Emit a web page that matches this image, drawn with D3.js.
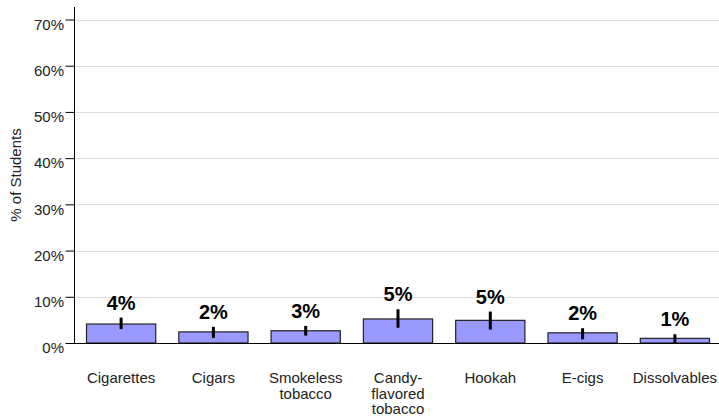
<!DOCTYPE html>
<html><head><meta charset="utf-8">
<script src="https://cdn.jsdelivr.net/npm/d3@7"></script>
<style>body{margin:0;background:#fff}svg{display:block;font-family:"Liberation Sans",Arial,sans-serif}</style>
</head><body><svg id="c" width="719" height="419"></svg>
<script>
const categories = [["Cigarettes"],["Cigars"],["Smokeless","tobacco"],["Candy-","flavored","tobacco"],["Hookah"],["E-cigs"],["Dissolvables"]];
const values = [4.1, 2.4, 2.65, 5.2, 4.9, 2.2, 1.0];
const errLow = [3.0, 1.1, 1.6, 3.3, 2.9, 0.8, 0.0];
const errHigh = [5.5, 3.5, 3.7, 7.3, 6.8, 3.2, 1.9];
const labels = ["4%","2%","3%","5%","5%","2%","1%"];
const yTicks = [0,10,20,30,40,50,60,70];

const svg = d3.select("#c");
const x0 = 74, xr = 721, yb = 343;
const y = d3.scaleLinear().domain([0,70]).range([yb,19.5]);
const x = d3.scaleBand().domain(d3.range(categories.length)).range([x0,xr]).paddingInner(0.25).paddingOuter(0.13);

// gridlines
svg.append("g").selectAll("line").data(yTicks.filter(d=>d>0)).join("line")
  .attr("x1",x0).attr("x2",719).attr("y1",d=>Math.round(y(d))+0.5).attr("y2",d=>Math.round(y(d))+0.5)
  .attr("stroke","#dddddd").attr("stroke-width",1);

// y axis
const ya = svg.append("g").attr("transform",`translate(${x0+0.5},0)`)
  .call(d3.axisLeft(y).tickValues(yTicks).tickFormat(d=>d+"%").tickSize(9).tickSizeOuter(0));
ya.select(".domain").remove();
ya.selectAll(".tick line").attr("stroke","#000");
ya.selectAll(".tick text").attr("font-size",15).attr("fill","#222").attr("x",-10.5).attr("dy","0.65em")
  .attr("font-family","Liberation Sans, Arial, sans-serif");
svg.append("line").attr("x1",x0+0.5).attr("x2",x0+0.5).attr("y1",7).attr("y2",yb).attr("stroke","#000");

// bars
svg.append("g").selectAll("rect").data(values).join("rect")
  .attr("x",(d,i)=>x(i)+0.5).attr("width",x.bandwidth())
  .attr("y",d=>y(d)).attr("height",d=>yb-y(d))
  .attr("fill","#9999ff").attr("stroke","#222").attr("stroke-width",1.2);

// baseline
svg.append("line").attr("x1",x0).attr("x2",719).attr("y1",yb+0.5).attr("y2",yb+0.5).attr("stroke","#000");

// error bars
svg.append("g").selectAll("line").data(values).join("line")
  .attr("x1",(d,i)=>x(i)+x.bandwidth()/2+0.5).attr("x2",(d,i)=>x(i)+x.bandwidth()/2+0.5)
  .attr("y1",(d,i)=>y(errHigh[i])).attr("y2",(d,i)=>y(errLow[i]))
  .attr("stroke","#000").attr("stroke-width",3);

// value labels
svg.append("g").selectAll("text").data(labels).join("text")
  .attr("x",(d,i)=>x(i)+x.bandwidth()/2+0.5).attr("y",(d,i)=>y(errHigh[i])-8)
  .attr("text-anchor","middle").attr("font-size",20).attr("font-weight","bold").attr("fill","#000").text(d=>d);

// category labels
const cg = svg.append("g").selectAll("text").data(categories).join("text")
  .attr("x",(d,i)=>x(i)+x.bandwidth()/2+0.5).attr("y",383)
  .attr("text-anchor","middle").attr("font-size",15).attr("fill","#222");
cg.each(function(d){
  const t = d3.select(this);
  d.forEach((s,j)=>t.append("tspan").attr("x",t.attr("x")).attr("dy",j?15.5:0).text(s));
});

// y title
svg.append("text").attr("transform","translate(20.5,175) rotate(-90)").attr("text-anchor","middle")
  .attr("font-size",15).attr("fill","#222").text("% of Students");
</script></body></html>
